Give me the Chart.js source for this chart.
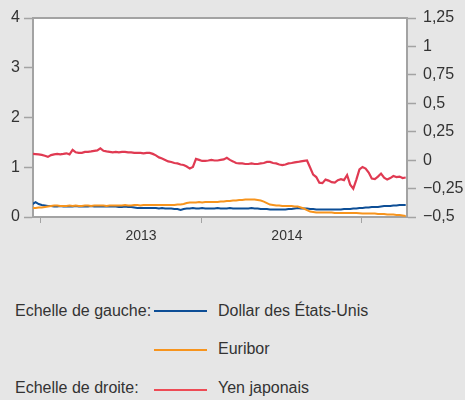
<!DOCTYPE html>
<html lang="fr">
<head>
<meta charset="utf-8">
<title>Taux</title>
<script src="https://cdn.jsdelivr.net/npm/chart.js@4/dist/chart.umd.min.js"></script>
<style>
  html, body { margin: 0; padding: 0; background: #e6e6e6; }
  body { width: 465px; height: 400px; position: relative; overflow: hidden;
         font-family: "Liberation Sans", Arial, sans-serif; color: #333; }
  #wrap { position: absolute; left: 0; top: 0; width: 465px; height: 250px; }
  .lg { position: absolute; font-size: 16px; line-height: 20px; white-space: nowrap; }
  .sw { position: absolute; height: 2px; width: 53px; }
</style>
</head>
<body>
<div id="wrap"><canvas id="c"></canvas></div>

<div class="lg" style="left:15px; top:301px;">Echelle de gauche:</div>
<div class="sw" style="left:154px; top:310px; background:#0d4e96;"></div>
<div class="lg" style="left:218px; top:301px;">Dollar des États-Unis</div>

<div class="sw" style="left:154px; top:349px; background:#f7941d;"></div>
<div class="lg" style="left:218px; top:339px;">Euribor</div>

<div class="lg" style="left:15px; top:378px;">Echelle de droite:</div>
<div class="sw" style="left:154px; top:389px; background:#ee4b55;"></div>
<div class="lg" style="left:218px; top:378px;">Yen japonais</div>

<script>
// Weekly observations, first one in mid-December 2012 (decimal years)
const firstWeek = 2012.953;
const weekLength = 7 / 365.25;

// Left scale (%)
const dollarUS = [
  0.26, 0.30, 0.26, 0.24, 0.23, 0.22, 0.22, 0.21, 0.21, 0.22,
  0.21, 0.21, 0.21, 0.21, 0.22, 0.21, 0.21, 0.21, 0.21, 0.22,
  0.21, 0.21, 0.21, 0.21, 0.21, 0.21, 0.21, 0.21, 0.20, 0.20,
  0.21, 0.20, 0.20, 0.19, 0.18, 0.18, 0.18, 0.18, 0.18, 0.18,
  0.18, 0.17, 0.18, 0.17, 0.17, 0.17, 0.16, 0.16, 0.14, 0.16,
  0.17, 0.17, 0.18, 0.17, 0.17, 0.18, 0.17, 0.17, 0.17, 0.17,
  0.18, 0.17, 0.17, 0.17, 0.18, 0.17, 0.17, 0.17, 0.17, 0.17,
  0.17, 0.18, 0.17, 0.17, 0.16, 0.16, 0.16, 0.15, 0.15, 0.15,
  0.15, 0.15, 0.15, 0.16, 0.16, 0.17, 0.18, 0.17, 0.17, 0.17,
  0.16, 0.16, 0.15, 0.15, 0.15, 0.15, 0.15, 0.15, 0.15, 0.15,
  0.15, 0.16, 0.16, 0.16, 0.17, 0.17, 0.18, 0.18, 0.19, 0.19,
  0.20, 0.20, 0.20, 0.21, 0.22, 0.22, 0.22, 0.23, 0.23, 0.24,
  0.24, 0.24
];

const euribor = [
  0.18, 0.18, 0.19, 0.19, 0.20, 0.21, 0.22, 0.23, 0.23, 0.22,
  0.22, 0.22, 0.23, 0.22, 0.23, 0.22, 0.22, 0.23, 0.23, 0.22,
  0.23, 0.23, 0.23, 0.23, 0.22, 0.23, 0.23, 0.23, 0.23, 0.23,
  0.24, 0.23, 0.23, 0.24, 0.24, 0.23, 0.24, 0.24, 0.24, 0.24,
  0.24, 0.24, 0.24, 0.24, 0.24, 0.24, 0.24, 0.25, 0.25, 0.26,
  0.28, 0.29, 0.29, 0.29, 0.30, 0.29, 0.30, 0.30, 0.30, 0.30,
  0.30, 0.31, 0.31, 0.32, 0.32, 0.33, 0.33, 0.34, 0.34, 0.35,
  0.35, 0.35, 0.35, 0.34, 0.33, 0.31, 0.28, 0.25, 0.24, 0.23,
  0.23, 0.22, 0.22, 0.22, 0.22, 0.21, 0.21, 0.19, 0.17, 0.14,
  0.11, 0.10, 0.09, 0.09, 0.09, 0.09, 0.09, 0.09, 0.08, 0.08,
  0.08, 0.08, 0.08, 0.08, 0.08, 0.08, 0.075, 0.07, 0.07, 0.07,
  0.07, 0.07, 0.06, 0.06, 0.06, 0.05, 0.05, 0.05, 0.04, 0.04,
  0.03, 0.02
];

// Right scale (%)
const yenJaponais = [
  0.055, 0.053, 0.051, 0.046, 0.039, 0.029, 0.044, 0.051, 0.055, 0.051,
  0.055, 0.060, 0.051, 0.091, 0.069, 0.064, 0.064, 0.073, 0.073, 0.077,
  0.082, 0.086, 0.104, 0.082, 0.077, 0.073, 0.069, 0.073, 0.069, 0.073,
  0.073, 0.069, 0.069, 0.064, 0.064, 0.064, 0.060, 0.064, 0.064, 0.055,
  0.042, 0.024, 0.015, 0.002, -0.011, -0.016, -0.025, -0.029, -0.038, -0.043,
  -0.056, -0.074, -0.060, 0.011, 0.002, -0.007, -0.007, -0.003, 0.002, -0.003,
  -0.003, 0.002, 0.006, 0.020, 0.002, -0.011, -0.025, -0.029, -0.029, -0.034,
  -0.034, -0.029, -0.034, -0.034, -0.029, -0.025, -0.016, -0.016, -0.025, -0.029,
  -0.038, -0.043, -0.038, -0.029, -0.025, -0.020, -0.016, -0.011, -0.007, -0.003,
  -0.065, -0.127, -0.149, -0.198, -0.202, -0.171, -0.180, -0.194, -0.198, -0.176,
  -0.167, -0.176, -0.131, -0.216, -0.251, -0.171, -0.082, -0.060, -0.074, -0.109,
  -0.162, -0.167, -0.145, -0.118, -0.154, -0.171, -0.158, -0.140, -0.149, -0.145,
  -0.158, -0.153
];

const leftTicks = [0, 1, 2, 3, 4];
const rightTicks = ['\u22120,5', '\u22120,25', '0', '0,25', '0,5', '0,75', '1', '1,25'];
const yearLabels = ['2013', '2014'];
const yearLabelPos = [2013.627, 2014.534];
const yearBoundaries = [2013, 2014, 2015];

const toPoints = vals => vals.map((v, i) => ({ x: firstWeek + i * weekLength, y: v }));

const axisGrey = '#a3a3a3';
const textCol = '#333333';
const fontFamily = '"Liberation Sans", Arial, sans-serif';

// White plotting area with a top rule
const plotFrame = {
  id: 'plotFrame',
  beforeDraw(chart) {
    const { ctx, chartArea: a } = chart;
    ctx.save();
    ctx.fillStyle = '#ffffff';
    ctx.fillRect(a.left, a.top, a.right - a.left, a.bottom - a.top);
    ctx.restore();
  },
  afterDraw(chart) {
    const { ctx, chartArea: a } = chart;
    ctx.save();
    ctx.strokeStyle = axisGrey;
    ctx.lineWidth = 2;
    ctx.beginPath();
    ctx.moveTo(a.left - 1, a.top);
    ctx.lineTo(a.right + 1, a.top);
    ctx.stroke();
    ctx.restore();
  }
};

new Chart(document.getElementById('c'), {
  type: 'line',
  data: {
    datasets: [
      { label: 'Euribor', data: toPoints(euribor), borderColor: '#f7941d',
        borderWidth: 2, pointRadius: 0, yAxisID: 'y', order: 0 },
      { label: 'Dollar des États-Unis', data: toPoints(dollarUS), borderColor: '#0d4e96',
        borderWidth: 2, pointRadius: 0, yAxisID: 'y', order: 1 },
      { label: 'Yen japonais', data: toPoints(yenJaponais), borderColor: '#e03a52',
        borderWidth: 2.2, pointRadius: 0, yAxisID: 'y1', order: 2 }
    ]
  },
  options: {
    responsive: true,
    maintainAspectRatio: false,
    animation: false,
    devicePixelRatio: 1,
    layout: { padding: { top: 18, left: 0, right: 0, bottom: 0 } },
    plugins: { legend: { display: false }, tooltip: { enabled: false } },
    elements: { line: { tension: 0 } },
    scales: {
      x: {
        type: 'linear',
        min: 2012.956,
        max: 2015.28,
        afterBuildTicks(scale) {
          scale.ticks = yearBoundaries.map(v => ({ value: v }))
            .concat(yearLabelPos.map(v => ({ value: v })))
            .sort((a, b) => a.value - b.value);
        },
        afterFit(scale) { scale.height = 33; },
        border: { display: true, color: axisGrey, width: 2 },
        grid: {
          drawOnChartArea: false,
          tickLength: 6,
          tickWidth: 1,
          tickColor: ctx => (yearBoundaries.includes(ctx.tick && ctx.tick.value) ? axisGrey : 'rgba(0,0,0,0)')
        },
        ticks: {
          autoSkip: false,
          maxRotation: 0,
          padding: 5,
          color: textCol,
          font: { family: fontFamily, size: 14 },
          callback: v => {
            const k = yearLabelPos.indexOf(v);
            return k >= 0 ? yearLabels[k] : '';
          }
        }
      },
      y: {
        position: 'left',
        min: 0,
        max: 4,
        afterBuildTicks(scale) { scale.ticks = leftTicks.map(v => ({ value: v })); },
        afterFit(scale) { scale.width = 33; },
        border: { display: true, color: axisGrey, width: 2 },
        grid: { drawOnChartArea: false, tickLength: 9, tickColor: axisGrey, tickWidth: 1.5 },
        ticks: { padding: 4, color: textCol, font: { family: fontFamily, size: 16 } }
      },
      y1: {
        position: 'right',
        min: -0.5,
        max: 1.25,
        afterBuildTicks(scale) {
          scale.ticks = rightTicks.map((t, i) => ({ value: -0.5 + 0.25 * i }));
        },
        afterFit(scale) { scale.width = 58; },
        border: { display: true, color: axisGrey, width: 2 },
        grid: { drawOnChartArea: false, tickLength: 9, tickColor: axisGrey, tickWidth: 1.5 },
        ticks: {
          padding: 7,
          color: textCol,
          font: { family: fontFamily, size: 16 },
          callback: (v, i) => rightTicks[i]
        }
      }
    }
  },
  plugins: [plotFrame]
});
</script>
</body>
</html>
